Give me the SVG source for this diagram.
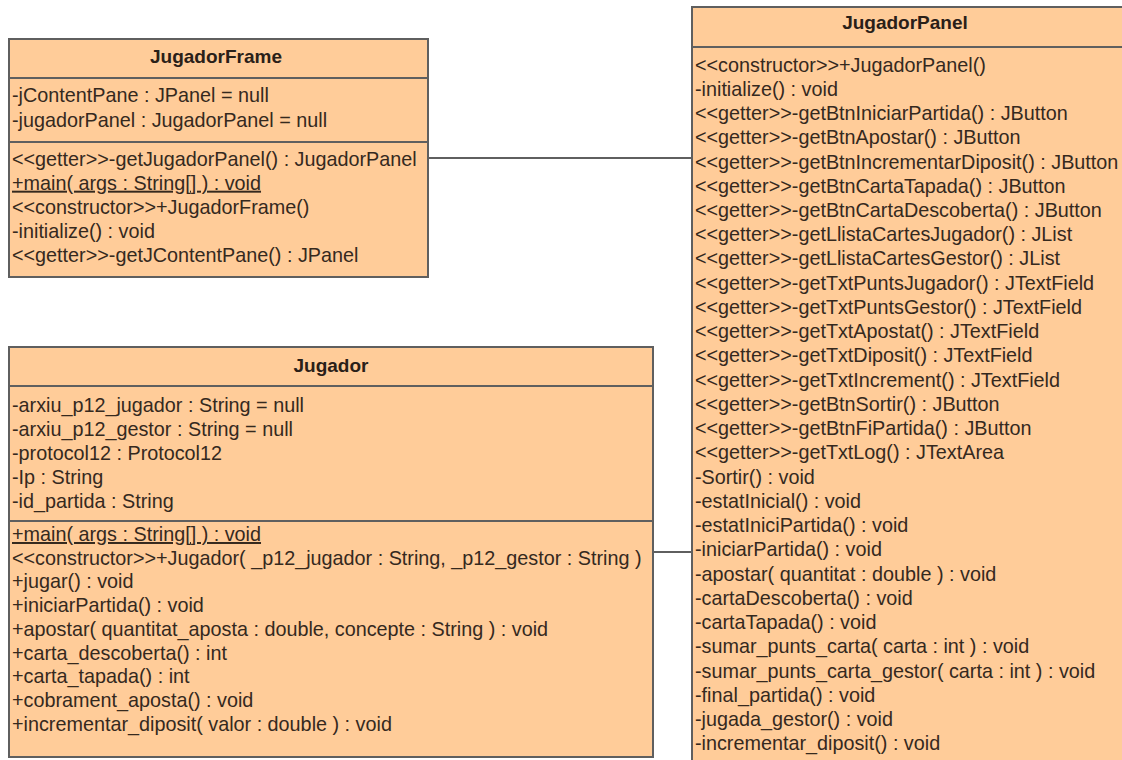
<svg xmlns="http://www.w3.org/2000/svg" width="1122" height="760" viewBox="0 0 1122 760">
<style>
.box{fill:#ffcc99;stroke:#5f5f5f;stroke-width:2}
.sep{stroke:#5f5f5f;stroke-width:2}
.t{font-family:"Liberation Sans",Arial,sans-serif;font-size:19.8px;fill:#35291e}
.h{font-family:"Liberation Sans",Arial,sans-serif;font-size:19px;font-weight:bold;fill:#2a2018;text-anchor:middle}
.u{text-decoration:underline}
.c{stroke:#5f5f5f;stroke-width:2;fill:none}
</style>
<rect width="1122" height="760" fill="#ffffff"/>
<g id="connectors">
<line class="c" x1="428" y1="158" x2="692" y2="158"/>
<line class="c" x1="653" y1="552" x2="692" y2="552"/>
</g>
<g id="JugadorFrame">
<rect class="box" x="9" y="39" width="419" height="238"/>
<line class="sep" x1="9" y1="78" x2="428" y2="78"/>
<line class="sep" x1="9" y1="142" x2="428" y2="142"/>
<text class="h" x="216" y="63">JugadorFrame</text>
<text class="t" x="12" y="102">-jContentPane : JPanel = null</text>
<text class="t" x="12" y="127">-jugadorPanel : JugadorPanel = null</text>
<text class="t" x="12" y="165.5">&lt;&lt;getter&gt;&gt;-getJugadorPanel() : JugadorPanel</text>
<text class="t u" x="12" y="189.7">+main( args : String[] ) : void</text>
<text class="t" x="12" y="213.9">&lt;&lt;constructor&gt;&gt;+JugadorFrame()</text>
<text class="t" x="12" y="238.1">-initialize() : void</text>
<text class="t" x="12" y="262.3">&lt;&lt;getter&gt;&gt;-getJContentPane() : JPanel</text>
</g>
<g id="Jugador">
<rect class="box" x="9" y="347" width="644" height="410"/>
<line class="sep" x1="9" y1="386" x2="653" y2="386"/>
<line class="sep" x1="9" y1="521" x2="653" y2="521"/>
<text class="h" x="331" y="372">Jugador</text>
<text class="t" x="12" y="412">-arxiu_p12_jugador : String = null</text>
<text class="t" x="12" y="436">-arxiu_p12_gestor : String = null</text>
<text class="t" x="12" y="460">-protocol12 : Protocol12</text>
<text class="t" x="12" y="484">-Ip : String</text>
<text class="t" x="12" y="508">-id_partida : String</text>
<text class="t u" x="12" y="541">+main( args : String[] ) : void</text>
<text class="t" x="12" y="564.7">&lt;&lt;constructor&gt;&gt;+Jugador( _p12_jugador : String, _p12_gestor : String )</text>
<text class="t" x="12" y="588.4">+jugar() : void</text>
<text class="t" x="12" y="612.1">+iniciarPartida() : void</text>
<text class="t" x="12" y="635.8">+apostar( quantitat_aposta : double, concepte : String ) : void</text>
<text class="t" x="12" y="659.5">+carta_descoberta() : int</text>
<text class="t" x="12" y="683.2">+carta_tapada() : int</text>
<text class="t" x="12" y="706.9">+cobrament_aposta() : void</text>
<text class="t" x="12" y="730.6">+incrementar_diposit( valor : double ) : void</text>
</g>
<g id="JugadorPanel">
<rect class="box" x="692" y="7" width="440" height="760"/>
<line class="sep" x1="692" y1="47" x2="1122" y2="47"/>
<text class="h" x="905" y="29">JugadorPanel</text>
<text class="t" x="695" y="71.5">&lt;&lt;constructor&gt;&gt;+JugadorPanel()</text>
<text class="t" x="695" y="95.7">-initialize() : void</text>
<text class="t" x="695" y="120">&lt;&lt;getter&gt;&gt;-getBtnIniciarPartida() : JButton</text>
<text class="t" x="695" y="144.2">&lt;&lt;getter&gt;&gt;-getBtnApostar() : JButton</text>
<text class="t" x="695" y="168.5">&lt;&lt;getter&gt;&gt;-getBtnIncrementarDiposit() : JButton</text>
<text class="t" x="695" y="192.7">&lt;&lt;getter&gt;&gt;-getBtnCartaTapada() : JButton</text>
<text class="t" x="695" y="216.9">&lt;&lt;getter&gt;&gt;-getBtnCartaDescoberta() : JButton</text>
<text class="t" x="695" y="241.2">&lt;&lt;getter&gt;&gt;-getLlistaCartesJugador() : JList</text>
<text class="t" x="695" y="265.4">&lt;&lt;getter&gt;&gt;-getLlistaCartesGestor() : JList</text>
<text class="t" x="695" y="289.7">&lt;&lt;getter&gt;&gt;-getTxtPuntsJugador() : JTextField</text>
<text class="t" x="695" y="313.9">&lt;&lt;getter&gt;&gt;-getTxtPuntsGestor() : JTextField</text>
<text class="t" x="695" y="338.1">&lt;&lt;getter&gt;&gt;-getTxtApostat() : JTextField</text>
<text class="t" x="695" y="362.4">&lt;&lt;getter&gt;&gt;-getTxtDiposit() : JTextField</text>
<text class="t" x="695" y="386.6">&lt;&lt;getter&gt;&gt;-getTxtIncrement() : JTextField</text>
<text class="t" x="695" y="410.9">&lt;&lt;getter&gt;&gt;-getBtnSortir() : JButton</text>
<text class="t" x="695" y="435.1">&lt;&lt;getter&gt;&gt;-getBtnFiPartida() : JButton</text>
<text class="t" x="695" y="459.3">&lt;&lt;getter&gt;&gt;-getTxtLog() : JTextArea</text>
<text class="t" x="695" y="483.6">-Sortir() : void</text>
<text class="t" x="695" y="507.8">-estatInicial() : void</text>
<text class="t" x="695" y="532.1">-estatIniciPartida() : void</text>
<text class="t" x="695" y="556.3">-iniciarPartida() : void</text>
<text class="t" x="695" y="580.5">-apostar( quantitat : double ) : void</text>
<text class="t" x="695" y="604.8">-cartaDescoberta() : void</text>
<text class="t" x="695" y="629">-cartaTapada() : void</text>
<text class="t" x="695" y="653.3">-sumar_punts_carta( carta : int ) : void</text>
<text class="t" x="695" y="677.5">-sumar_punts_carta_gestor( carta : int ) : void</text>
<text class="t" x="695" y="701.7">-final_partida() : void</text>
<text class="t" x="695" y="726">-jugada_gestor() : void</text>
<text class="t" x="695" y="750.2">-incrementar_diposit() : void</text>
</g>
</svg>
